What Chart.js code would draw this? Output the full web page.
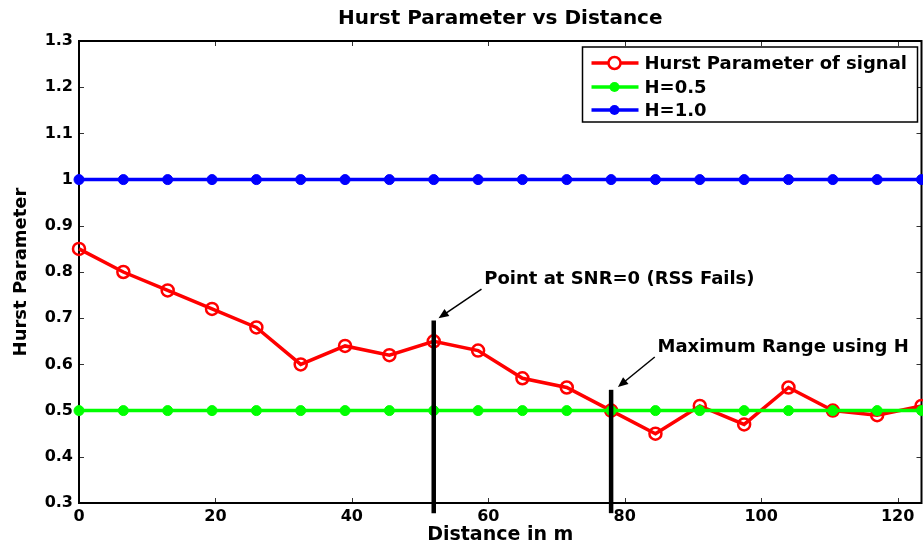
<!DOCTYPE html>
<html>
<head>
<meta charset="utf-8">
<script src="https://cdn.jsdelivr.net/npm/chart.js@4/dist/chart.umd.min.js"></script>
<style>
  html, body { margin: 0; padding: 0; background: #fff; overflow: hidden; }
  #wrap { width: 930px; height: 546px; }
</style>
</head>
<body>
<div id="wrap"><canvas id="hurstChart" width="930" height="546"></canvas></div>
<script>
// distance (m) of every sample
const distances = [0, 6.5, 13, 19.5, 26, 32.5, 39, 45.5, 52, 58.5, 65, 71.5, 78, 84.5, 91, 97.5, 104, 110.5, 117, 123.5];
const hurstSignal = [0.85, 0.80, 0.76, 0.72, 0.68, 0.60, 0.64, 0.62, 0.65, 0.63, 0.57, 0.55, 0.50, 0.45, 0.51, 0.47, 0.55, 0.50, 0.49, 0.51];
const hHalf = [0.5, 0.5, 0.5, 0.5, 0.5, 0.5, 0.5, 0.5, 0.5, 0.5, 0.5, 0.5, 0.5, 0.5, 0.5, 0.5, 0.5, 0.5, 0.5, 0.5];
const hOne = [1.0, 1.0, 1.0, 1.0, 1.0, 1.0, 1.0, 1.0, 1.0, 1.0, 1.0, 1.0, 1.0, 1.0, 1.0, 1.0, 1.0, 1.0, 1.0, 1.0];
const xTicks = [0, 20, 40, 60, 80, 100, 120];
const yTicks = [0.3, 0.4, 0.5, 0.6, 0.7, 0.8, 0.9, 1.0, 1.1, 1.2, 1.3];

// annotation bars + arrows, in data units
const notes = [
  { at: 52, from: 0.278, to: 0.695, text: 'Point at SNR=0 (RSS Fails)', textAt: [59.4, 0.774], tail: [59.0, 0.763], head: [52.7, 0.700] },
  { at: 78, from: 0.278, to: 0.545, text: 'Maximum Range using H', textAt: [84.8, 0.627], tail: [84.4, 0.616], head: [79.0, 0.551] }
];

const FONT = 'DejaVu Sans';
const pts = ys => distances.map((d, i) => ({ x: d, y: ys[i] }));

// axes box and inward tick marks
const frame = {
  id: 'frame',
  beforeDatasetsDraw(chart) {
    const { ctx, chartArea: a, scales: { x, y } } = chart;
    ctx.save();
    ctx.strokeStyle = '#333';
    ctx.lineWidth = 1;
    ctx.beginPath();
    xTicks.forEach(v => {
      const px = Math.round(x.getPixelForValue(v)) + 0.5;
      ctx.moveTo(px, a.bottom); ctx.lineTo(px, a.bottom - 5);
      ctx.moveTo(px, a.top); ctx.lineTo(px, a.top + 5);
    });
    yTicks.forEach(v => {
      const py = Math.round(y.getPixelForValue(v)) + 0.5;
      ctx.moveTo(a.left, py); ctx.lineTo(a.left + 5, py);
      ctx.moveTo(a.right, py); ctx.lineTo(a.right - 5, py);
    });
    ctx.stroke();
    ctx.strokeStyle = '#000';
    ctx.lineWidth = 2;
    ctx.strokeRect(a.left, a.top, a.right - a.left, a.bottom - a.top);
    ctx.restore();
  }
};

const annotate = {
  id: 'annotate',
  afterDatasetsDraw(chart) {
    const { ctx, scales: { x, y } } = chart;
    ctx.save();
    notes.forEach(n => {
      const bx = x.getPixelForValue(n.at);
      ctx.strokeStyle = '#000';
      ctx.lineWidth = 4.5;
      ctx.beginPath();
      ctx.moveTo(bx, y.getPixelForValue(n.from));
      ctx.lineTo(bx, y.getPixelForValue(n.to));
      ctx.stroke();

      const tx = x.getPixelForValue(n.tail[0]), ty = y.getPixelForValue(n.tail[1]);
      const hx = x.getPixelForValue(n.head[0]), hy = y.getPixelForValue(n.head[1]);
      const ang = Math.atan2(hy - ty, hx - tx);
      ctx.lineWidth = 1.5;
      ctx.beginPath();
      ctx.moveTo(tx, ty);
      ctx.lineTo(hx - 6 * Math.cos(ang), hy - 6 * Math.sin(ang));
      ctx.stroke();
      ctx.fillStyle = '#000';
      ctx.beginPath();
      ctx.moveTo(hx, hy);
      ctx.lineTo(hx - 11 * Math.cos(ang - 0.4), hy - 11 * Math.sin(ang - 0.4));
      ctx.lineTo(hx - 11 * Math.cos(ang + 0.4), hy - 11 * Math.sin(ang + 0.4));
      ctx.closePath();
      ctx.fill();

      ctx.font = 'bold 18px ' + FONT;
      ctx.textAlign = 'left';
      ctx.textBaseline = 'alphabetic';
      ctx.fillText(n.text, x.getPixelForValue(n.textAt[0]), y.getPixelForValue(n.textAt[1]));
    });
    ctx.restore();
  }
};

// MATLAB-style legend box in the top right corner
const legendBox = {
  id: 'legendBox',
  afterDraw(chart) {
    const { ctx, chartArea: a } = chart;
    const w = 335, h = 75;
    const left = a.right - 4 - w, top = a.top + 6;
    ctx.save();
    ctx.fillStyle = '#fff';
    ctx.fillRect(left, top, w, h);
    ctx.strokeStyle = '#000';
    ctx.lineWidth = 1.5;
    ctx.strokeRect(left, top, w, h);
    const rows = [16, 40, 63];
    chart.data.datasets.forEach((ds, i) => {
      const cy = top + rows[i];
      ctx.strokeStyle = ds.borderColor;
      ctx.lineWidth = ds.borderWidth;
      ctx.beginPath();
      ctx.moveTo(left + 9, cy); ctx.lineTo(left + 56, cy);
      ctx.stroke();
      ctx.beginPath();
      ctx.arc(left + 32, cy, ds.pointRadius, 0, Math.PI * 2);
      if (ds.pointBackgroundColor === 'rgba(0,0,0,0)') {
        ctx.fillStyle = '#fff';
        ctx.fill();
        ctx.lineWidth = ds.pointBorderWidth;
        ctx.stroke();
      } else {
        ctx.fillStyle = ds.pointBackgroundColor;
        ctx.fill();
      }
      ctx.fillStyle = '#000';
      ctx.font = 'bold 18px ' + FONT;
      ctx.textBaseline = 'middle';
      ctx.fillText(ds.label, left + 62, cy + 1);
    });
    ctx.restore();
  }
};

const ctx = document.getElementById('hurstChart').getContext('2d');
new Chart(ctx, {
  type: 'line',
  data: {
    datasets: [
      {
        label: 'Hurst Parameter of signal',
        data: pts(hurstSignal),
        borderColor: '#ff0000',
        borderWidth: 3.5,
        pointRadius: 6,
        pointBorderWidth: 2.5,
        pointBorderColor: '#ff0000',
        pointBackgroundColor: 'rgba(0,0,0,0)',
        order: 3,
        clip: false
      },
      {
        label: 'H=0.5',
        data: pts(hHalf),
        borderColor: '#00ff00',
        borderWidth: 3.5,
        pointRadius: 5,
        pointBorderWidth: 1,
        pointBorderColor: '#00ff00',
        pointBackgroundColor: '#00ff00',
        order: 1,
        clip: false
      },
      {
        label: 'H=1.0',
        data: pts(hOne),
        borderColor: '#0000ff',
        borderWidth: 3.5,
        pointRadius: 5,
        pointBorderWidth: 1,
        pointBorderColor: '#0000ff',
        pointBackgroundColor: '#0000ff',
        order: 2,
        clip: false
      }
    ]
  },
  options: {
    responsive: false,
    animation: false,
    layout: { padding: { right: 5 } },
    plugins: {
      legend: { display: false },
      tooltip: { enabled: false },
      title: {
        display: true,
        text: 'Hurst Parameter vs Distance',
        fullSize: false,
        color: '#000',
        font: { family: FONT, size: 20, weight: 'bold' },
        padding: { top: 7, bottom: 10 }
      }
    },
    scales: {
      x: {
        type: 'linear',
        min: 0,
        max: 123.5,
        grid: { display: false, drawTicks: false },
        border: { display: false },
        ticks: {
          stepSize: 20,
          includeBounds: false,
          autoSkip: false,
          maxRotation: 0,
          padding: 4,
          color: '#000',
          font: { family: FONT, size: 16, weight: 'bold' }
        },
        title: {
          display: true,
          text: 'Distance in m',
          color: '#000',
          font: { family: FONT, size: 19, weight: 'bold' },
          padding: { top: 0, bottom: 0 }
        },
        afterFit: s => { s.height = 43; }
      },
      y: {
        min: 0.3,
        max: 1.3,
        grid: { display: false, drawTicks: false },
        border: { display: false },
        ticks: {
          stepSize: 0.1,
          padding: 6,
          color: '#000',
          font: { family: FONT, size: 16, weight: 'bold' },
          callback: v => +v.toFixed(1)
        },
        title: {
          display: true,
          text: 'Hurst Parameter',
          color: '#000',
          font: { family: FONT, size: 18, weight: 'bold' },
          padding: { top: 11, bottom: 0 }
        },
        afterFit: s => { s.width = 79; }
      }
    }
  },
  plugins: [frame, annotate, legendBox]
});
</script>
</body>
</html>
